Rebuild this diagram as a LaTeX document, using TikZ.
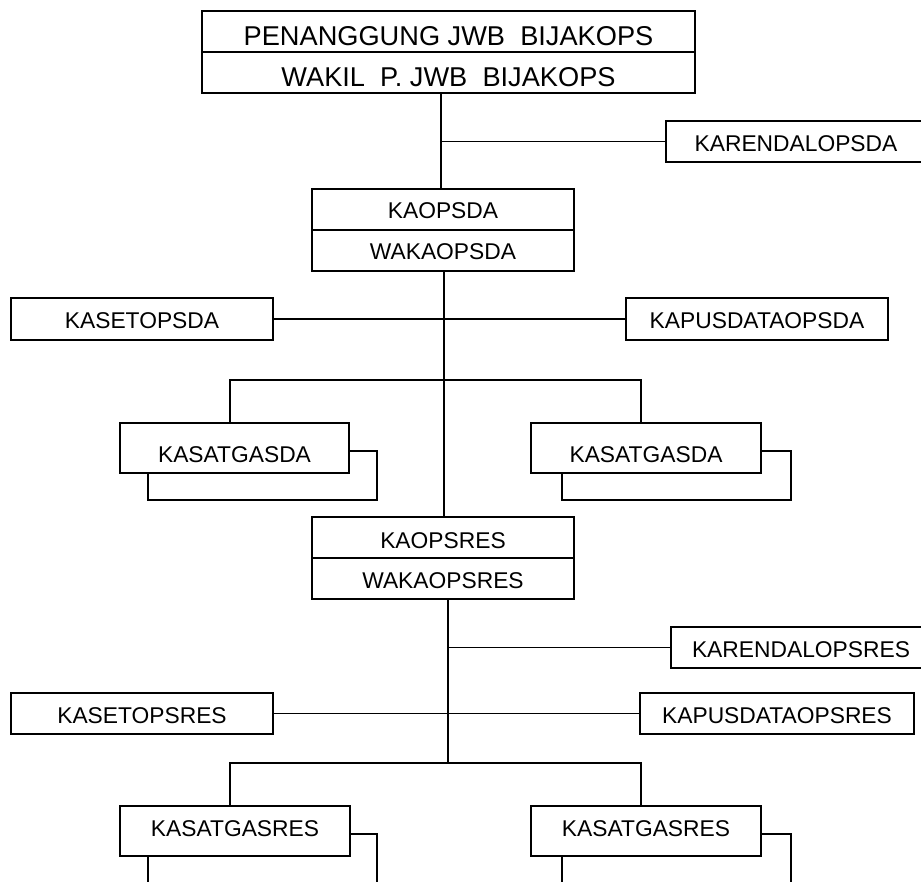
\documentclass[tikz,border=0pt]{standalone}
\usepackage{fontspec}
\setmainfont{Liberation Sans}
\begin{document}
\begin{tikzpicture}[x=1pt,y=-1pt,line width=1.6pt,
  box/.style={draw,fill=white,inner sep=0pt,rectangle},
  lbl/.style={anchor=base,inner sep=0pt,font=\fontsize{22.8}{26}\selectfont},
  biglbl/.style={anchor=base,inner sep=0pt,font=\fontsize{27.2}{31}\selectfont}]
\clip (0,0) rectangle (921,882);
\fill[white] (0,0) rectangle (921,882);
% spine coordinates
\coordinate (s1) at (441,0);
\coordinate (s2) at (444,0);
\coordinate (s3) at (448,0);
\coordinate (bLa) at (230,380);
\coordinate (bRa) at (641,380);
\coordinate (bLb) at (230,763);
\coordinate (bRb) at (641,763);
% boxes
\node[box,minimum width=493pt,minimum height=82pt] (top) at (448.5,52) {};
\draw (top.west) -- (top.east);
\node[box,minimum width=260pt,minimum height=41pt] (rendalda) at (796,141.5) {};
\node[box,minimum width=262pt,minimum height=82pt] (kaopsda) at (443,230) {};
\draw (kaopsda.west) -- (kaopsda.east);
\node[box,minimum width=262pt,minimum height=42pt] (setda) at (142,319) {};
\node[box,minimum width=262pt,minimum height=42pt] (pusda) at (757,319) {};
\node[box,minimum width=229pt,minimum height=49pt] (satLash) at (262.5,475.5) {};
\node[box,minimum width=229pt,minimum height=50pt] (satLa) at (234.5,448) {};
\node[box,minimum width=229pt,minimum height=49pt] (satRash) at (676.5,475.5) {};
\node[box,minimum width=230pt,minimum height=50pt] (satRa) at (646,448) {};
\node[box,minimum width=262pt,minimum height=82pt] (kaopsres) at (443,558) {};
\draw (kaopsres.west) -- (kaopsres.east);
\node[box,minimum width=260pt,minimum height=41pt] (rendalres) at (801,647.5) {};
\node[box,minimum width=262pt,minimum height=41pt] (setres) at (142,713.5) {};
\node[box,minimum width=274pt,minimum height=41pt] (pusres) at (777,713.5) {};
\node[box,minimum width=229pt,minimum height=49pt] (satLbsh) at (262.5,858.5) {};
\node[box,minimum width=230pt,minimum height=50pt] (satLb) at (235,831) {};
\node[box,minimum width=229pt,minimum height=49pt] (satRbsh) at (676.5,858.5) {};
\node[box,minimum width=230pt,minimum height=50pt] (satRb) at (646,831) {};
% connectors
\draw (top.south -| s1) -- (kaopsda.north -| s1);
\draw (s1 |- rendalda.west) -- (rendalda.west);
\draw (kaopsda.south -| s2) -- (kaopsres.north -| s2);
\draw (setda.east) -- (pusda.west);
\draw (satLa.north -| bLa) -- (bLa) -- (bRa) -- (satRa.north -| bRa);
\draw (kaopsres.south -| s3) -- (s3 |- bLb);
\draw (s3 |- rendalres.west) -- (rendalres.west);
\draw (setres.east) -- (pusres.west);
\draw (satLb.north -| bLb) -- (bLb) -- (bRb) -- (satRb.north -| bRb);
% texts
\node[biglbl] (t1) at (448.5,46) {PENANGGUNG JWB\ \ BIJAKOPS};
\node[biglbl] (t2) at (448.5,87) {WAKIL\ \ P. JWB\ \ BIJAKOPS};
\node[lbl] (t3) at (796,152) {KARENDALOPSDA};
\node[lbl] (t4) at (443,219) {KAOPSDA};
\node[lbl] (t5) at (443,260) {WAKAOPSDA};
\node[lbl] (t6) at (142,329) {KASETOPSDA};
\node[lbl] (t7) at (757,329) {KAPUSDATAOPSDA};
\node[lbl] (t8) at (234.5,462) {KASATGASDA};
\node[lbl] (t9) at (646,462) {KASATGASDA};
\node[lbl] (t10) at (443,548) {KAOPSRES};
\node[lbl] (t11) at (443,588) {WAKAOPSRES};
\node[lbl] (t12) at (801,657) {KARENDALOPSRES};
\node[lbl] (t13) at (142,723) {KASETOPSRES};
\node[lbl] (t14) at (777,723) {KAPUSDATAOPSRES};
\node[lbl] (t15) at (235,836) {KASATGASRES};
\node[lbl] (t16) at (646,836) {KASATGASRES};
\end{tikzpicture}
\end{document}
